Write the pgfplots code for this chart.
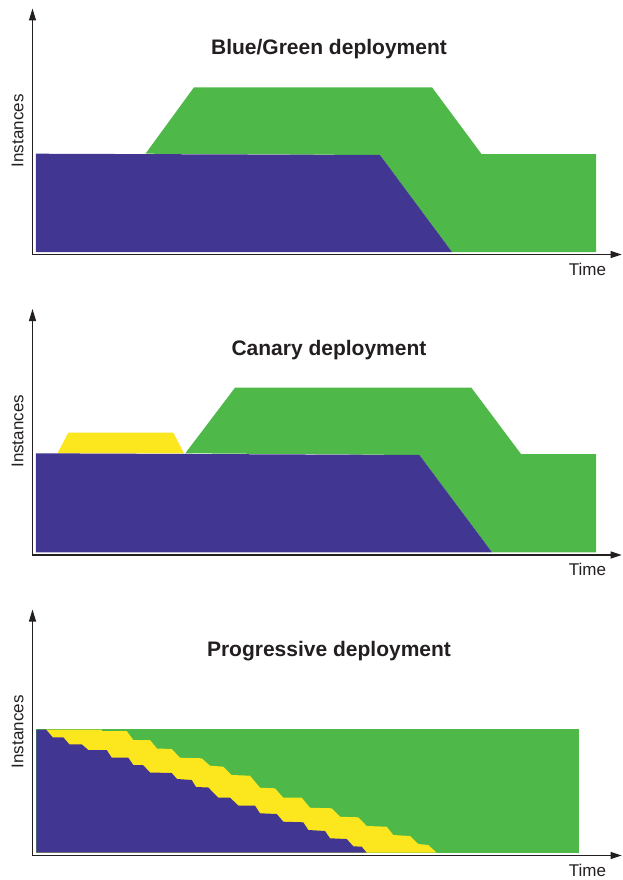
\documentclass[border=0pt]{standalone}
\usepackage{pgfplots}
\pgfplotsset{compat=1.18}
\usepackage{fontspec}
\setmainfont{Liberation Sans}
\usetikzlibrary{arrows.meta}
\definecolor{dblue}{RGB}{65,54,145}
\definecolor{dgreen}{RGB}{78,184,72}
\definecolor{dyellow}{RGB}{252,230,30}
\definecolor{ink}{RGB}{35,31,32}

\pgfplotsset{
  panel/.style={
    x=1pt, y=1pt, xmin=0, xmax=589.2, ymin=0, ymax=246,
    axis lines=left,
    axis line style={ink, line width=1.2pt},
    x axis line style={-{Triangle[length=11pt,width=7pt]}},
    y axis line style={-{Triangle[length=12pt,width=7pt]}},
    ticks=none, clip=false, anchor=south west,
  },
  area/.style={draw=none, mark=none, fill=#1, forget plot},
}
\newcommand{\paneltext}[1]{%
  \node[anchor=base, text=ink, font=\fontsize{21}{25}\selectfont\bfseries] at (axis cs:296.5,199.5) {#1};
  \node[anchor=base, text=ink, font=\fontsize{17}{20}\selectfont] at (axis cs:555,-20.5) {Time};
  \node[anchor=base, rotate=90, text=ink, font=\fontsize{17}{20}\selectfont] at (axis cs:-9.2,123.7) {Instances};
}

\begin{document}
\begin{tikzpicture}
\path[use as bounding box] (0pt,0pt) rectangle (622pt,-880pt);

% ---------------- Blue/Green ----------------
\begin{axis}[panel, at={(32.5pt,-254.5pt)}]
\addplot[area=dgreen] coordinates {
  (113,100.8) (161.5,167.2) (399.5,167.2) (449,100.5) (563.5,100.5)
  (563.5,2.5) (419.5,2.5) (347.5,99.5)};
\addplot[area=dblue] coordinates {
  (3.5,100.8) (347.5,99.5) (419.5,2.5) (3.5,2.5)};
\paneltext{Blue/Green deployment}
\end{axis}

% ---------------- Canary ----------------
\begin{axis}[panel, at={(32.5pt,-555pt)}]
\addplot[area=dyellow] coordinates {
  (25,101.7) (35.8,122.3) (140.9,122.3) (151.5,101.7)};
\addplot[area=dgreen] coordinates {
  (152.8,101.7) (202.5,167.3) (438.9,167.3) (488.5,101) (563.5,101)
  (563.5,2.7) (459.5,2.7) (386.9,100)};
\addplot[area=dblue] coordinates {
  (3.5,101.7) (386.9,100) (459.5,2.7) (3.5,2.7)};
\paneltext{Canary deployment}
\end{axis}

% ---------------- Progressive ----------------
\begin{axis}[panel, at={(32.5pt,-855.5pt)}]
\addplot[area=dgreen] coordinates {
  (4,126.2) (546.9,126.2) (546.9,2.8) (4,2.8)};
\addplot[area=dyellow] coordinates {
  (13.5,126) (69.2,126) (69.5,124.5) (94.2,124.5) (100.8,115.5) (117.5,115.5)
  (124.5,107) (139.2,106.5) (147.5,97.8) (169.2,97.2) (177.5,89.8) (190.8,88.8)
  (199.2,80.5) (217.5,79.8) (227.5,67.8) (242.5,67.2) (250.8,57.8) (269.2,57.8)
  (277.5,47.8) (299.2,47.2) (307.5,38.8) (325.8,38.2) (334.2,29.5) (354.2,28.8)
  (360.8,20.5) (377.5,19.5) (385.8,11.5) (395.8,10.5) (404.2,2.8) (4,2.8)};
\addplot[area=dblue] coordinates {
  (4,126) (13.5,126) (20.2,118.2) (30.8,118.2) (36.8,111.2) (49.2,111.2)
  (55.8,105.5) (74.2,105.5) (79.2,97.8) (95.8,97.8) (100.8,90.5) (110.5,90.5)
  (117.5,83) (139.2,82.5) (144.5,76.5) (159.2,75.5) (163.5,68.5) (175.8,68)
  (185.8,57.8) (197.5,57.8) (205.8,50) (222.5,49.8) (227.5,42.2) (244.2,41.5)
  (250.8,33.8) (270.8,33.2) (275.8,25.5) (292.5,24.5) (297.5,17.2) (314.2,16.5)
  (320.8,9.2) (329.2,8.8) (334.2,2.8) (4,2.8)};
\paneltext{Progressive deployment}
\end{axis}
\end{tikzpicture}
\end{document}
